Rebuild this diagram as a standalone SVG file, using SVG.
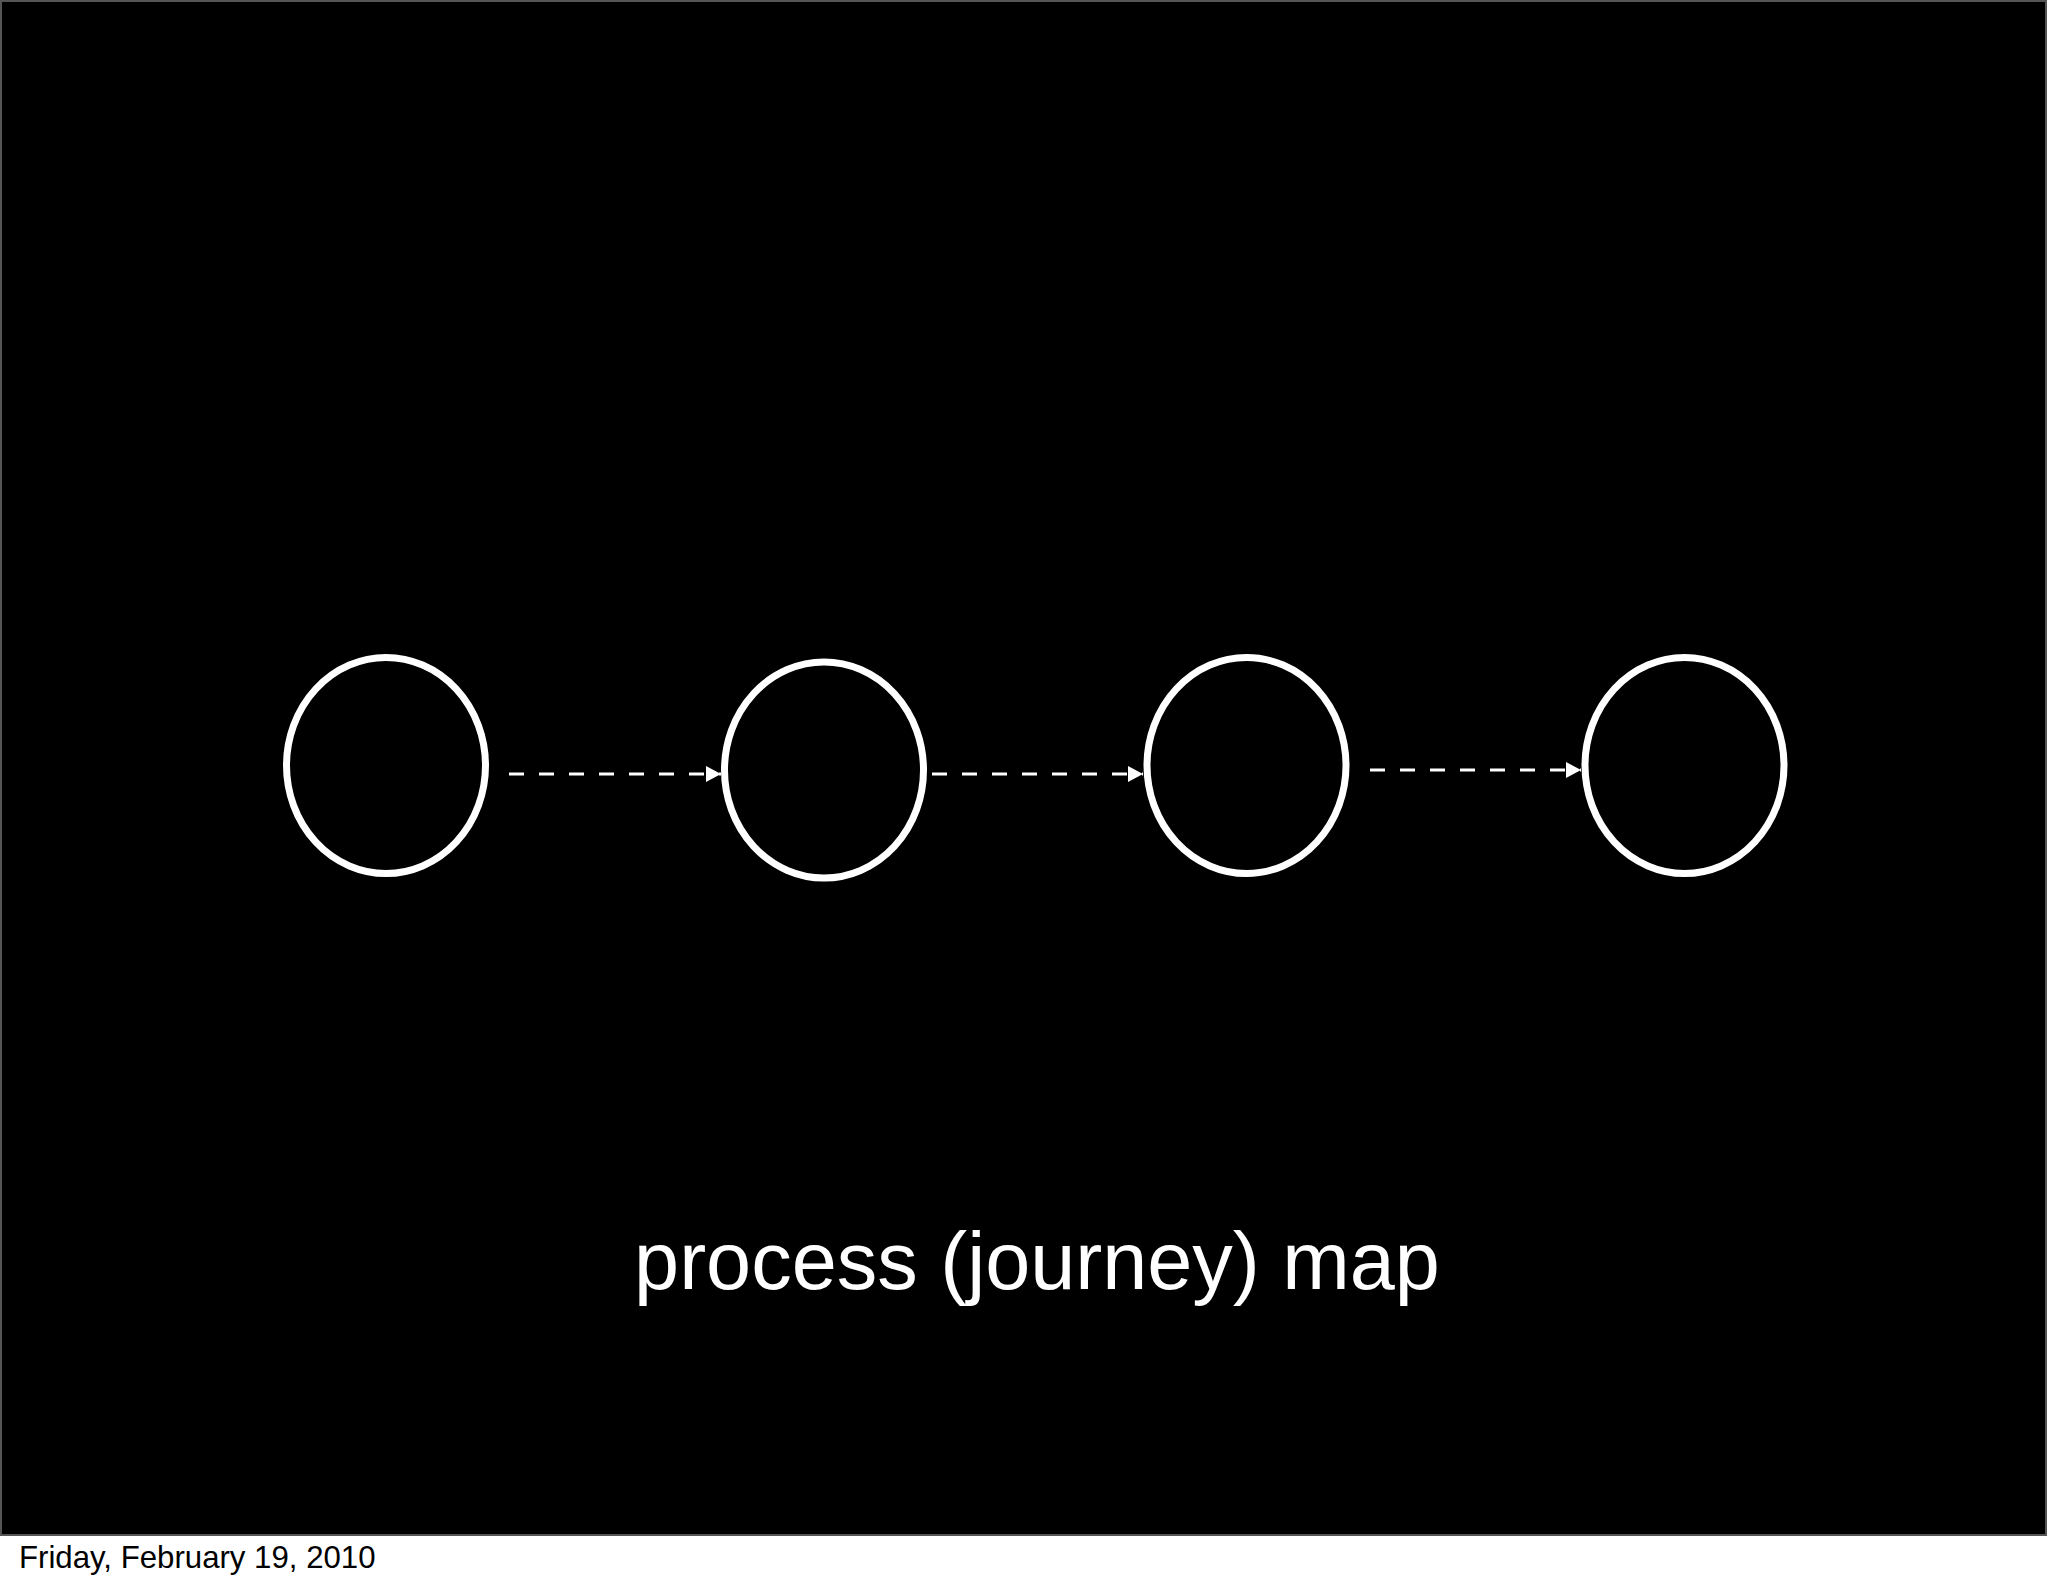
<svg xmlns="http://www.w3.org/2000/svg" width="2048" height="1587" viewBox="0 0 2048 1587">
<defs>
<style>
.node{fill:none;stroke:#fff;stroke-width:7}
.conn{stroke:#fff;stroke-width:3;stroke-dasharray:15 15;fill:none}
.title{font-family:"Liberation Sans",Arial,sans-serif;font-size:81px;fill:#fff}
.foot{font-family:"Liberation Sans",Arial,sans-serif;font-size:31.2px;fill:#000}
</style>
<marker id="arr" markerUnits="userSpaceOnUse" markerWidth="15" markerHeight="16" refX="15" refY="8" orient="auto">
<path d="M0,0 L15,8 L0,16 Z" fill="#fff"/>
</marker>
</defs>
<rect x="0" y="0" width="2048" height="1587" fill="#fff"/>
<rect x="1" y="1" width="2045" height="1534" fill="#000" stroke="#555" stroke-width="2"/>
<g id="connectors">
<line class="conn" x1="509" y1="774" x2="721" y2="774" marker-end="url(#arr)"/>
<line class="conn" x1="932" y1="774" x2="1143" y2="774" marker-end="url(#arr)"/>
<line class="conn" x1="1370" y1="770" x2="1581" y2="770" marker-end="url(#arr)"/>
</g>
<g id="node1"><ellipse class="node" cx="386" cy="765.5" rx="99.5" ry="108"/></g>
<g id="node2"><ellipse class="node" cx="824" cy="770" rx="99.5" ry="108"/></g>
<g id="node3"><ellipse class="node" cx="1246.5" cy="765.5" rx="99.5" ry="108"/></g>
<g id="node4"><ellipse class="node" cx="1684.5" cy="765.5" rx="99.5" ry="108"/></g>
<text class="title" x="1037" y="1289" text-anchor="middle">process (journey) map</text>
<text class="foot" x="19" y="1568">Friday, February 19, 2010</text>
</svg>
